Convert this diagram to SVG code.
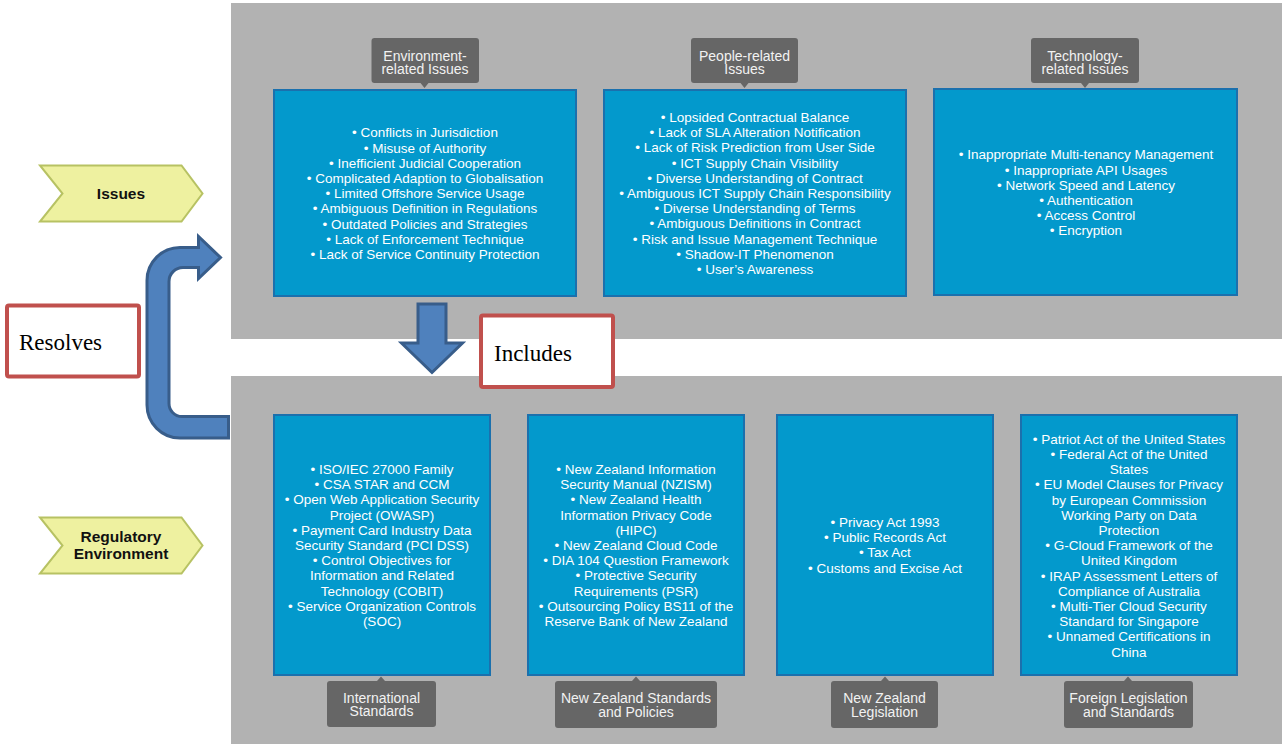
<svg xmlns="http://www.w3.org/2000/svg" width="1282" height="744" viewBox="0 0 1282 744">
<defs>
<style>
.panel{fill:#b2b2b2;}
.box{fill:#0399cc;stroke:#1b70ad;stroke-width:2;}
.bt{font-family:"Liberation Sans",Arial,sans-serif;font-size:13.5px;fill:#ffffff;text-anchor:middle;}
.call{fill:#666666;}
.ct{font-family:"Liberation Sans",Arial,sans-serif;font-size:14px;fill:#f2f2f2;text-anchor:middle;}
.chev{fill:#eef1a0;stroke:#b7c263;stroke-width:2;}
.cht{font-family:"Liberation Sans",Arial,sans-serif;font-size:15.5px;font-weight:bold;fill:#111;text-anchor:middle;}
.arrow{fill:#4f81bd;stroke:#385d8a;stroke-width:3;stroke-linejoin:miter;}
.red{fill:#ffffff;stroke:#c0504d;stroke-width:4;}
.rt{font-family:"Liberation Serif","Times New Roman",serif;font-size:23px;fill:#000;}
</style>
</defs>
<rect width="1282" height="744" fill="#ffffff"/>
<g id="panels">
<rect class="panel" x="231" y="3" width="1051" height="336"/>
<rect class="panel" x="231" y="376" width="1051" height="368"/>
</g>

<g id="env-issues">
<rect class="box" x="274" y="90" width="302" height="206"/>
<text class="bt" y="137.4"><tspan x="425">• Conflicts in Jurisdiction</tspan><tspan x="425" dy="15.2">• Misuse of Authority</tspan><tspan x="425" dy="15.2">• Inefficient Judicial Cooperation</tspan><tspan x="425" dy="15.2">• Complicated Adaption to Globalisation</tspan><tspan x="425" dy="15.2">• Limited Offshore Service Usage</tspan><tspan x="425" dy="15.2">• Ambiguous Definition in Regulations</tspan><tspan x="425" dy="15.2">• Outdated Policies and Strategies</tspan><tspan x="425" dy="15.2">• Lack of Enforcement Technique</tspan><tspan x="425" dy="15.2">• Lack of Service Continuity Protection</tspan></text>
</g>
<g id="env-callout">
<path class="call" d="M374.5 38 H476 Q479 38 479 41 V80 Q479 83 476 83 H428.5 L424.5 88 L420.5 83 H374.5 Q371.5 83 371.5 80 V41 Q371.5 38 374.5 38 Z"/>
<text class="ct" y="60.5"><tspan x="425">Environment-</tspan><tspan x="425" dy="13.5">related Issues</tspan></text>
</g>

<g id="people-issues">
<rect class="box" x="604" y="90" width="302" height="206"/>
<text class="bt" y="122"><tspan x="755">• Lopsided Contractual Balance</tspan><tspan x="755" dy="15.2">• Lack of SLA Alteration Notification</tspan><tspan x="755" dy="15.2">• Lack of Risk Prediction from User Side</tspan><tspan x="755" dy="15.2">• ICT Supply Chain Visibility</tspan><tspan x="755" dy="15.2">• Diverse Understanding of Contract</tspan><tspan x="755" dy="15.2">• Ambiguous ICT Supply Chain Responsibility</tspan><tspan x="755" dy="15.2">• Diverse Understanding of Terms</tspan><tspan x="755" dy="15.2">• Ambiguous Definitions in Contract</tspan><tspan x="755" dy="15.2">• Risk and Issue Management Technique</tspan><tspan x="755" dy="15.2">• Shadow-IT Phenomenon</tspan><tspan x="755" dy="15.2">• User’s Awareness</tspan></text>
</g>
<g id="people-callout">
<path class="call" d="M694 38 H795 Q798 38 798 41 V80 Q798 83 795 83 H748.5 L744.5 88 L740.5 83 H694 Q691 83 691 80 V41 Q691 38 694 38 Z"/>
<text class="ct" y="60.5"><tspan x="744.5">People-related</tspan><tspan x="744.5" dy="13.5">Issues</tspan></text>
</g>

<g id="tech-issues">
<rect class="box" x="934" y="89" width="303" height="206"/>
<text class="bt" y="159.4"><tspan x="1086">• Inappropriate Multi-tenancy Management</tspan><tspan x="1086" dy="15.2">• Inappropriate API Usages</tspan><tspan x="1086" dy="15.2">• Network Speed and Latency</tspan><tspan x="1086" dy="15.2">• Authentication</tspan><tspan x="1086" dy="15.2">• Access Control</tspan><tspan x="1086" dy="15.2">• Encryption</tspan></text>
</g>
<g id="tech-callout">
<path class="call" d="M1034 38 H1136 Q1139 38 1139 41 V80 Q1139 83 1136 83 H1089 L1085 88 L1081 83 H1034 Q1031 83 1031 80 V41 Q1031 38 1034 38 Z"/>
<text class="ct" y="60.5"><tspan x="1085">Technology-</tspan><tspan x="1085" dy="13.5">related Issues</tspan></text>
</g>

<g id="intl-standards">
<rect class="box" x="274" y="415" width="216" height="260"/>
<text class="bt" y="474"><tspan x="382">• ISO/IEC 27000 Family</tspan><tspan x="382" dy="15.2">• CSA STAR and CCM</tspan><tspan x="382" dy="15.2">• Open Web Application Security</tspan><tspan x="382" dy="15.2">Project (OWASP)</tspan><tspan x="382" dy="15.2">• Payment Card Industry Data</tspan><tspan x="382" dy="15.2">Security Standard (PCI DSS)</tspan><tspan x="382" dy="15.2">• Control Objectives for</tspan><tspan x="382" dy="15.2">Information and Related</tspan><tspan x="382" dy="15.2">Technology (COBIT)</tspan><tspan x="382" dy="15.2">• Service Organization Controls</tspan><tspan x="382" dy="15.2">(SOC)</tspan></text>
</g>
<g id="intl-callout">
<path class="call" d="M330 681 H377 L381 676.5 L385 681 H433 Q436 681 436 684 V724 Q436 727 433 727 H330 Q327 727 327 724 V684 Q327 681 330 681 Z"/>
<text class="ct" y="702.5"><tspan x="381.5">International</tspan><tspan x="381.5" dy="13.5">Standards</tspan></text>
</g>

<g id="nz-standards">
<rect class="box" x="528" y="415" width="216" height="260"/>
<text class="bt" y="474"><tspan x="636">• New Zealand Information</tspan><tspan x="636" dy="15.2">Security Manual (NZISM)</tspan><tspan x="636" dy="15.2">• New Zealand Health</tspan><tspan x="636" dy="15.2">Information Privacy Code</tspan><tspan x="636" dy="15.2">(HIPC)</tspan><tspan x="636" dy="15.2">• New Zealand Cloud Code</tspan><tspan x="636" dy="15.2">• DIA 104 Question Framework</tspan><tspan x="636" dy="15.2">• Protective Security</tspan><tspan x="636" dy="15.2">Requirements (PSR)</tspan><tspan x="636" dy="15.2">• Outsourcing Policy BS11 of the</tspan><tspan x="636" dy="15.2">Reserve Bank of New Zealand</tspan></text>
</g>
<g id="nz-standards-callout">
<path class="call" d="M558 681 H632 L636 676.5 L640 681 H714 Q717 681 717 684 V725 Q717 728 714 728 H558 Q555 728 555 725 V684 Q555 681 558 681 Z"/>
<text class="ct" y="702.5"><tspan x="636">New Zealand Standards</tspan><tspan x="636" dy="14">and Policies</tspan></text>
</g>

<g id="nz-legislation">
<rect class="box" x="777" y="415" width="216" height="260"/>
<text class="bt" y="527"><tspan x="885">• Privacy Act 1993</tspan><tspan x="885" dy="15.2">• Public Records Act</tspan><tspan x="885" dy="15.2">• Tax Act</tspan><tspan x="885" dy="15.2">• Customs and Excise Act</tspan></text>
</g>
<g id="nz-legislation-callout">
<path class="call" d="M834 681 H881 L885 676.5 L889 681 H935 Q938 681 938 684 V725 Q938 728 935 728 H834 Q831 728 831 725 V684 Q831 681 834 681 Z"/>
<text class="ct" y="702.5"><tspan x="884.5">New Zealand</tspan><tspan x="884.5" dy="14">Legislation</tspan></text>
</g>

<g id="foreign">
<rect class="box" x="1021" y="415" width="216" height="260"/>
<text class="bt" y="443.7"><tspan x="1129">• Patriot Act of the United States</tspan><tspan x="1129" dy="15.2">• Federal Act of the United</tspan><tspan x="1129" dy="15.2">States</tspan><tspan x="1129" dy="15.2">• EU Model Clauses for Privacy</tspan><tspan x="1129" dy="15.2">by European Commission</tspan><tspan x="1129" dy="15.2">Working Party on Data</tspan><tspan x="1129" dy="15.2">Protection</tspan><tspan x="1129" dy="15.2">• G-Cloud Framework of the</tspan><tspan x="1129" dy="15.2">United Kingdom</tspan><tspan x="1129" dy="15.2">• IRAP Assessment Letters of</tspan><tspan x="1129" dy="15.2">Compliance of Australia</tspan><tspan x="1129" dy="15.2">• Multi-Tier Cloud Security</tspan><tspan x="1129" dy="15.2">Standard for Singapore</tspan><tspan x="1129" dy="15.2">• Unnamed Certifications in</tspan><tspan x="1129" dy="15.2">China</tspan></text>
</g>
<g id="foreign-callout">
<path class="call" d="M1067 681 H1124 L1128 676.5 L1132 681 H1190 Q1193 681 1193 684 V725 Q1193 728 1190 728 H1067 Q1064 728 1064 725 V684 Q1064 681 1067 681 Z"/>
<text class="ct" y="702.5"><tspan x="1128.5">Foreign Legislation</tspan><tspan x="1128.5" dy="14">and Standards</tspan></text>
</g>

<g id="issues-chevron">
<polygon class="chev" points="40,165.5 181.5,165.5 202.5,193.5 181.5,221.5 40,221.5 62.5,193.5"/>
<text class="cht" x="121" y="198.5">Issues</text>
</g>
<g id="regulatory-chevron">
<polygon class="chev" points="40,517.5 181.5,517.5 202.5,545.5 181.5,573.5 40,573.5 62.5,545.5"/>
<text class="cht" y="542"><tspan x="121">Regulatory</tspan><tspan x="121" dy="17">Environment</tspan></text>
</g>

<g id="connectors">
<path class="arrow" d="M228.5 416.5 L182 416.5 A13 13 0 0 1 169 403.5 L169 281.5 A14 14 0 0 1 183 267.5 L198.5 267.5 L198.5 278.5 L220.5 257.5 L198.5 236.5 L198.5 247.5 L180 247.5 A33 33 0 0 0 147 280.5 L147 405 A33 33 0 0 0 180 438 L228.5 438 Z"/>
<path class="arrow" d="M418 304 L446 304 L446 343 L462.5 343 L432 372.5 L401.5 343 L418 343 Z"/>
</g>

<g id="resolves-label">
<rect class="red" x="7" y="305.5" width="132" height="71" rx="2"/>
<text class="rt" x="19" y="350">Resolves</text>
</g>
<g id="includes-label">
<rect class="red" x="481" y="315.5" width="132" height="71.5" rx="2"/>
<text class="rt" x="494" y="361">Includes</text>
</g>
</svg>
